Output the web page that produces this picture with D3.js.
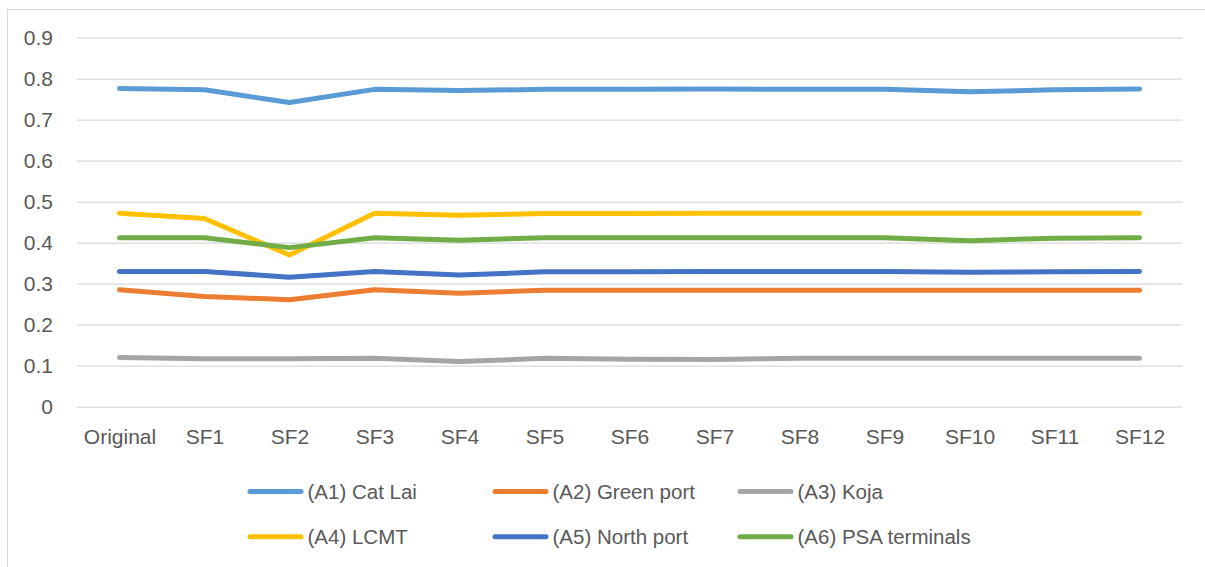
<!DOCTYPE html>
<html>
<head>
<meta charset="utf-8">
<script src="https://cdnjs.cloudflare.com/ajax/libs/d3/7.8.5/d3.min.js"></script>
<style>
  body { margin: 0; background: #fff; }
  svg text { font-family: "Liberation Sans", Arial, sans-serif; fill: #595959; }
</style>
</head>
<body>
<div id="chart"></div>
<script>
// categories on the x axis
var scenarios = ["Original", "SF1", "SF2", "SF3", "SF4", "SF5", "SF6", "SF7", "SF8", "SF9", "SF10", "SF11", "SF12"];

// series values
var catLai     = [0.776, 0.773, 0.742, 0.774, 0.771, 0.774, 0.774, 0.775, 0.774, 0.774, 0.768, 0.773, 0.775];
var greenPort  = [0.285, 0.269, 0.261, 0.285, 0.277, 0.284, 0.284, 0.284, 0.284, 0.284, 0.284, 0.284, 0.284];
var koja       = [0.120, 0.117, 0.117, 0.118, 0.110, 0.118, 0.116, 0.115, 0.118, 0.118, 0.118, 0.118, 0.118];
var lcmt       = [0.472, 0.459, 0.370, 0.472, 0.467, 0.471, 0.471, 0.472, 0.472, 0.472, 0.472, 0.472, 0.472];
var northPort  = [0.330, 0.330, 0.316, 0.330, 0.321, 0.329, 0.329, 0.330, 0.330, 0.330, 0.328, 0.329, 0.330];
var psa        = [0.412, 0.412, 0.388, 0.412, 0.406, 0.412, 0.412, 0.412, 0.412, 0.412, 0.405, 0.411, 0.412];

var seriesNames = ["(A1) Cat Lai", "(A2) Green port", "(A3) Koja", "(A4) LCMT", "(A5) North port", "(A6) PSA terminals"];
var seriesColors = ["#5B9BD5", "#ED7D31", "#A5A5A5", "#FFC000", "#4472C4", "#70AD47"];
var yTicks = [0, 0.1, 0.2, 0.3, 0.4, 0.5, 0.6, 0.7, 0.8, 0.9];

var series = [catLai, greenPort, koja, lcmt, northPort, psa].map(function(vals, i) {
    return { name: seriesNames[i], color: seriesColors[i], values: vals };
});

var W = 1205, H = 567;
var margin = { top: 37.7, right: 1205 - 1182, bottom: 567 - 406.7, left: 77 };

var svg = d3.select("#chart").append("svg")
    .attr("width", W)
    .attr("height", H);

// chart frame
svg.append("rect")
    .attr("x", 7.5).attr("y", 9.5)
    .attr("width", W + 10).attr("height", H + 10)
    .attr("fill", "none")
    .attr("stroke", "#D9D9D9")
    .attr("stroke-width", 1);

var x = d3.scalePoint()
    .domain(scenarios)
    .range([margin.left, W - margin.right])
    .padding(0.5);

var y = d3.scaleLinear()
    .domain([0, 0.9])
    .range([H - margin.bottom, margin.top]);

// gridlines + y labels
var yAxis = svg.append("g")
    .attr("transform", "translate(" + margin.left + ",0)")
    .call(d3.axisLeft(y)
        .tickValues(yTicks)
        .tickSize(-(W - margin.left - margin.right))
        .tickPadding(24)
        .tickFormat(function(d) { return d === 0 ? "0" : d3.format(".1f")(d); }));
yAxis.select(".domain").remove();
yAxis.selectAll(".tick line").attr("stroke", "#D9D9D9").attr("stroke-width", 1.3);
yAxis.selectAll(".tick text")
    .style("font-size", "21px")
    .attr("fill", "#595959");

// x labels
var xAxis = svg.append("g")
    .attr("transform", "translate(0," + (H - margin.bottom) + ")")
    .call(d3.axisBottom(x).tickSize(0).tickPadding(22));
xAxis.select(".domain").remove();
xAxis.selectAll(".tick text")
    .style("font-size", "21px")
    .attr("fill", "#595959");

// lines
var line = d3.line()
    .x(function(d, i) { return x(scenarios[i]); })
    .y(function(d) { return y(d); });

svg.selectAll(".series")
    .data(series)
    .enter().append("path")
    .attr("class", "series")
    .attr("d", function(d) { return line(d.values); })
    .attr("fill", "none")
    .attr("stroke", function(d) { return d.color; })
    .attr("stroke-width", 5)
    .attr("stroke-linecap", "round")
    .attr("stroke-linejoin", "round");

// legend, 3 per row
var legend = svg.selectAll(".legend")
    .data(series)
    .enter().append("g")
    .attr("class", "legend")
    .attr("transform", function(d, i) {
        return "translate(" + (250 + (i % 3) * 245) + "," + (491.5 + Math.floor(i / 3) * 45.2) + ")";
    });

legend.append("line")
    .attr("x1", 0).attr("x2", 51)
    .attr("y1", 0).attr("y2", 0)
    .attr("stroke", function(d) { return d.color; })
    .attr("stroke-width", 5)
    .attr("stroke-linecap", "round");

legend.append("text")
    .attr("x", 57.5)
    .attr("dy", "0.35em")
    .style("font-size", "20.5px")
    .text(function(d) { return d.name; });
</script>
</body>
</html>
